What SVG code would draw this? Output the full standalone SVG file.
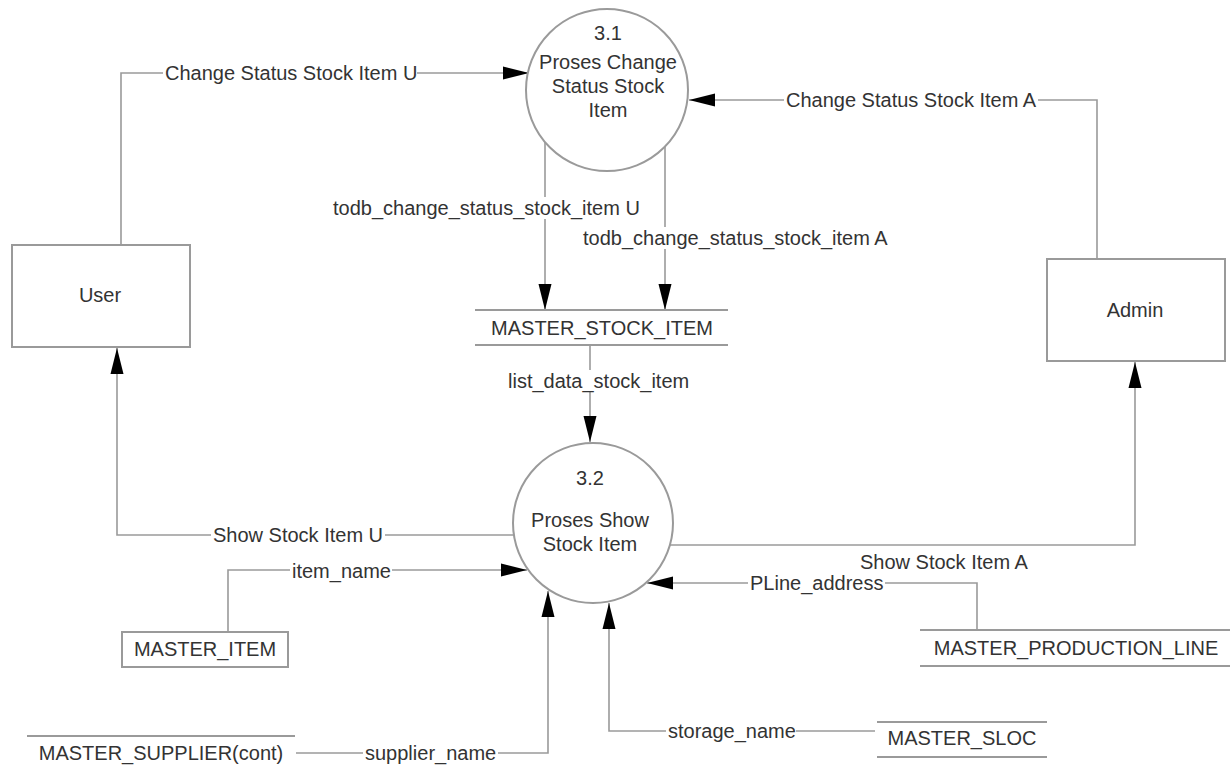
<svg xmlns="http://www.w3.org/2000/svg" width="1230" height="769" viewBox="0 0 1230 769">
<style>
  text { font-family: "Liberation Sans", Arial, sans-serif; font-size: 20px; fill: #333; }
  .c { text-anchor: middle; }
  .flow { fill: none; stroke: #9a9a9a; stroke-width: 1.6; }
  .arr { fill: none; stroke: #9a9a9a; stroke-width: 1.6; marker-end: url(#ah); }
  .box { fill: #fff; stroke: #9a9a9a; stroke-width: 2; }
  .store { stroke: #9a9a9a; stroke-width: 2; }
  .proc { fill: #fff; stroke: #9a9a9a; stroke-width: 2; }
  .bg { fill: #fff; }
</style>
<defs>
  <marker id="ah" markerUnits="userSpaceOnUse" markerWidth="27" markerHeight="14" refX="26" refY="7" orient="auto">
    <path d="M0,0.5 L26,7 L0,13.5 z" fill="#000"/>
  </marker>
</defs>
<rect width="1230" height="769" fill="#fff"/>

<g id="connectors">
  <!-- Change Status Stock Item U -->
  <polyline class="arr" points="121,245 121,73 529,73"/>
  <rect class="bg" x="163" y="62" width="254" height="22"/>
  <text x="165" y="80">Change Status Stock Item U</text>

  <!-- Change Status Stock Item A -->
  <polyline class="arr" points="1097,259 1097,100 689,100"/>
  <rect class="bg" x="784" y="89" width="254" height="22"/>
  <text x="786" y="107">Change Status Stock Item A</text>

  <!-- todb U -->
  <line class="arr" x1="545" y1="142" x2="545" y2="310"/>
  <rect class="bg" x="331" y="197" width="312" height="22"/>
  <text x="333" y="215">todb_change_status_stock_item U</text>

  <!-- todb A -->
  <line class="arr" x1="665" y1="147" x2="665" y2="310"/>
  <rect class="bg" x="581" y="227" width="312" height="22"/>
  <text x="583" y="245">todb_change_status_stock_item A</text>

  <!-- list_data_stock_item -->
  <line class="arr" x1="590" y1="345" x2="590" y2="442"/>
  <rect class="bg" x="506" y="370" width="184" height="22"/>
  <text x="508" y="388">list_data_stock_item</text>

  <!-- Show Stock Item U -->
  <polyline class="arr" points="514,535 117,535 117,348"/>
  <rect class="bg" x="211" y="524" width="174" height="22"/>
  <text x="213" y="542">Show Stock Item U</text>

  <!-- Show Stock Item A -->
  <polyline class="arr" points="670,545 1135,545 1135,362"/>
  <text x="860" y="569">Show Stock Item A</text>

  <!-- item_name -->
  <polyline class="arr" points="228,632 228,570 527,570"/>
  <rect class="bg" x="290" y="560" width="102" height="22"/>
  <text x="292" y="578">item_name</text>

  <!-- supplier_name -->
  <polyline class="arr" points="296,753 548,753 548,591"/>
  <rect class="bg" x="363" y="742" width="135" height="22"/>
  <text x="365" y="760">supplier_name</text>

  <!-- storage_name -->
  <polyline class="arr" points="875,731 609,731 609,603"/>
  <rect class="bg" x="666" y="720" width="130" height="22"/>
  <text x="668" y="738">storage_name</text>

  <!-- PLine_address -->
  <polyline class="arr" points="977,630 977,583 647,583"/>
  <rect class="bg" x="748" y="572" width="137" height="22"/>
  <text x="750" y="590">PLine_address</text>
</g>

<g id="p31">
  <circle class="proc" cx="607" cy="90" r="81"/>
  <text class="c" x="608" y="40">3.1</text>
  <text class="c" x="608" y="69">Proses Change</text>
  <text class="c" x="608" y="93">Status Stock</text>
  <text class="c" x="608" y="117">Item</text>
</g>

<g id="p32">
  <circle class="proc" cx="593" cy="523" r="80"/>
  <text class="c" x="590" y="485">3.2</text>
  <text class="c" x="590" y="527">Proses Show</text>
  <text class="c" x="590" y="551">Stock Item</text>
</g>

<g id="user">
  <rect class="box" x="12" y="245" width="178" height="102"/>
  <text class="c" x="100" y="302">User</text>
</g>

<g id="admin">
  <rect class="box" x="1047" y="259" width="178" height="102"/>
  <text class="c" x="1135" y="317">Admin</text>
</g>

<g id="master_stock_item">
  <line class="store" x1="475" y1="310" x2="728" y2="310"/>
  <line class="store" x1="475" y1="345" x2="728" y2="345"/>
  <text class="c" x="602" y="335">MASTER_STOCK_ITEM</text>
</g>

<g id="master_item">
  <rect class="box" x="122" y="632" width="166" height="35"/>
  <text class="c" x="205" y="656">MASTER_ITEM</text>
</g>

<g id="master_supplier">
  <line class="store" x1="27" y1="736" x2="295" y2="736"/>
  <text class="c" x="161" y="760">MASTER_SUPPLIER(cont)</text>
</g>

<g id="master_sloc">
  <line class="store" x1="877" y1="722" x2="1047" y2="722"/>
  <line class="store" x1="877" y1="757" x2="1047" y2="757"/>
  <text class="c" x="962" y="745">MASTER_SLOC</text>
</g>

<g id="master_production_line">
  <line class="store" x1="920" y1="630" x2="1230" y2="630"/>
  <line class="store" x1="920" y1="666" x2="1230" y2="666"/>
  <text class="c" x="1076" y="655">MASTER_PRODUCTION_LINE</text>
</g>
</svg>
